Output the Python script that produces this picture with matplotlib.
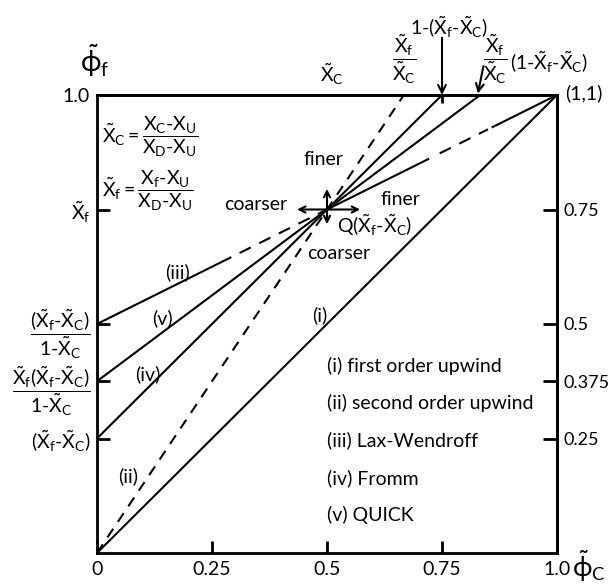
import numpy as np
import matplotlib
matplotlib.use("Agg")
import matplotlib.pyplot as plt

plt.rcParams["font.family"] = ["Lato", "DejaVu Sans"]
plt.rcParams["mathtext.fontset"] = "custom"
plt.rcParams["mathtext.rm"] = "Lato"
plt.rcParams["mathtext.it"] = "Lato"
plt.rcParams["mathtext.sf"] = "Lato"
plt.rcParams["mathtext.bf"] = "Lato:bold"

# normalised cell centre / face positions
XC = 0.5
XF = 0.75

# characteristics (phi_C, phi_f) of each scheme
upwind_c = [0.0, 1.0]
upwind_f = [0.0, 1.0]
sou_c = [0.0, 0.667]
sou_f = [0.0, 1.0]
lw_c = [0.0, 1.0]
lw_f = [0.5, 1.0]
fromm_c = [0.0, 0.75]
fromm_f = [0.25, 1.0]
quick_c = [0.0, 0.833]
quick_f = [0.375, 1.0]

scheme_names = ["(i) first order upwind", "(ii) second order upwind",
                "(iii) Lax-Wendroff", "(iv) Fromm", "(v) QUICK"]

bottom_ticks = [0.0, 0.25, 0.5, 0.75, 1.0]
bottom_labels = ["0", "0.25", "0.5", "0.75", "1.0"]
right_ticks = [0.75, 0.5, 0.375, 0.25]
right_labels = ["0.75", "0.5", "0.375", "0.25"]

H = r"\text{-}"
XT_F = r"\tilde{X}_{f}"
XT_C = r"\tilde{X}_{C}"

left_ticks = [1.0, XF, 0.5, 0.375, 0.25]
left_labels = [
    "1.0",
    rf"${XT_F}$",
    rf"$\dfrac{{({XT_F}{H}{XT_C})}}{{1{H}{XT_C}}}$",
    rf"$\dfrac{{{XT_F}({XT_F}{H}{XT_C})}}{{1{H}{XT_C}}}$",
    rf"$({XT_F}{H}{XT_C})$",
]

FS = 14

fig = plt.figure(figsize=(6.11, 5.85), dpi=100)
ax = fig.add_axes([97 / 611, 1 - 553 / 585, 460 / 611, 458 / 585])
ax.set_xlim(0, 1)
ax.set_ylim(0, 1)

LW = 1.5
K = "black"

# (i) first order upwind
ax.plot(upwind_c, upwind_f, color=K, lw=LW)
# (ii) second order upwind
ax.plot(sou_c, sou_f, color=K, lw=LW, linestyle=(0, (5, 4)))
# (iii) Lax-Wendroff: solid near the ends, dashed in between
lw_solid = [(0.0, 0.29), (0.5, 0.72), (0.86, 1.0)]
lw_dash = [(0.31, 0.5), (0.745, 0.85)]
for a, b in lw_solid:
    xs = np.array([a, b])
    ax.plot(xs, np.interp(xs, lw_c, lw_f), color=K, lw=LW)
for a, b in lw_dash:
    xs = np.array([a, b])
    ax.plot(xs, np.interp(xs, lw_c, lw_f), color=K, lw=LW, linestyle=(0, (6, 4.5)))
# (iv) Fromm
ax.plot(fromm_c, fromm_f, color=K, lw=LW)
# (v) QUICK
ax.plot(quick_c, quick_f, color=K, lw=LW)

for s in ax.spines.values():
    s.set_linewidth(2.0)

ax.set_xticks(bottom_ticks)
ax.set_xticklabels(bottom_labels, fontsize=FS)
ax.set_yticks(left_ticks)
ax.set_yticklabels(left_labels, fontsize=FS)
ax.tick_params(axis="both", direction="in", length=9, width=2.0, pad=6)
ax.tick_params(axis="y", pad=5)

right = ax.secondary_yaxis("right")
right.set_yticks(right_ticks)
right.set_yticklabels(right_labels, fontsize=13)
right.tick_params(direction="in", length=10, width=2.0, pad=5)
right.spines["right"].set_linewidth(2.0)

top = ax.secondary_xaxis("top")
top.set_xticks([fromm_c[1]])
top.set_xticklabels([""])
top.tick_params(direction="in", length=6, width=2.0)
top.spines["top"].set_linewidth(2.0)

tx = dict(clip_on=False, color=K)

# axis titles
ax.text(-0.004, 1.075, r"$\tilde{\phi}_{f}$", fontsize=20, ha="center", va="center", **tx)
ax.text(1.07, -0.03, r"$\tilde{\phi}_{C}$", fontsize=19, ha="center", va="center", **tx)

# definitions
ax.text(0.01, 0.908, rf"${XT_C}{{=}}\dfrac{{X_{{C}}{H}X_{{U}}}}{{X_{{D}}{H}X_{{U}}}}$",
        fontsize=FS, ha="left", va="center", **tx)
ax.text(0.01, 0.790, rf"${XT_F}{{=}}\dfrac{{X_{{f}}{H}X_{{U}}}}{{X_{{D}}{H}X_{{U}}}}$",
        fontsize=FS, ha="left", va="center", **tx)

# labels along the top edge
ax.text(XC + 0.01, 1.045, rf"${XT_C}$", fontsize=FS, ha="center", va="center", **tx)
ax.text(sou_c[1], 1.079, rf"$\dfrac{{{XT_F}}}{{{XT_C}}}$", fontsize=FS,
        ha="center", va="center", **tx)
ax.text(0.765, 1.148, rf"$1{H}({XT_F}{H}{XT_C})$", fontsize=FS,
        ha="center", va="center", **tx)
ax.text(0.865, 1.079, rf"$\dfrac{{{XT_F}}}{{{XT_C}}}$", fontsize=FS,
        ha="center", va="center", **tx)
ax.text(0.983, 1.072, rf"$(1{H}{XT_F}{H}{XT_C})$", fontsize=FS,
        ha="center", va="center", **tx)
ax.text(1.017, 1.004, "(1,1)", fontsize=FS, ha="left", va="center", **tx)

arrow_kw = dict(arrowstyle="->", lw=1.5, color=K, mutation_scale=14,
                shrinkA=0, shrinkB=0)
ax.annotate("", xy=(fromm_c[1], 1.0), xytext=(fromm_c[1], 1.125),
            arrowprops=arrow_kw, annotation_clip=False)
ax.annotate("", xy=(quick_c[1] - 0.005, 1.003), xytext=(0.84, 1.063),
            arrowprops=arrow_kw, annotation_clip=False)

# direction cross at the common point
cross_kw = dict(arrowstyle="<->", lw=1.5, color=K, mutation_scale=11,
                shrinkA=0, shrinkB=0)
ax.annotate("", xy=(0.435, XF), xytext=(0.572, XF), arrowprops=cross_kw)
ax.annotate("", xy=(XC, 0.795), xytext=(XC, 0.718), arrowprops=cross_kw)
ax.text(0.493, 0.860, "finer", fontsize=FS, ha="center", va="center", **tx)
ax.text(0.413, 0.760, "coarser", fontsize=FS, ha="right", va="center", **tx)
ax.text(0.659, 0.771, "finer", fontsize=FS, ha="center", va="center", **tx)
ax.text(0.604, 0.716, rf"Q$({XT_F}{H}{XT_C})$", fontsize=FS,
        ha="center", va="center", **tx)
ax.text(0.526, 0.655, "coarser", fontsize=FS, ha="center", va="center", **tx)

# curve tags
for lab, (x, y) in zip(["(iii)", "(v)", "(iv)", "(ii)", "(i)"],
                       [(0.176, 0.614), (0.143, 0.513), (0.111, 0.391),
                        (0.067, 0.168), (0.485, 0.520)]):
    ax.text(x, y, lab, fontsize=FS, ha="center", va="center", **tx)

# scheme list
for i, name in enumerate(scheme_names):
    ax.text(0.5, 0.408 - i * 0.0812, name, fontsize=FS, ha="left", va="center", **tx)

fig.savefig("out.png", dpi=100)
